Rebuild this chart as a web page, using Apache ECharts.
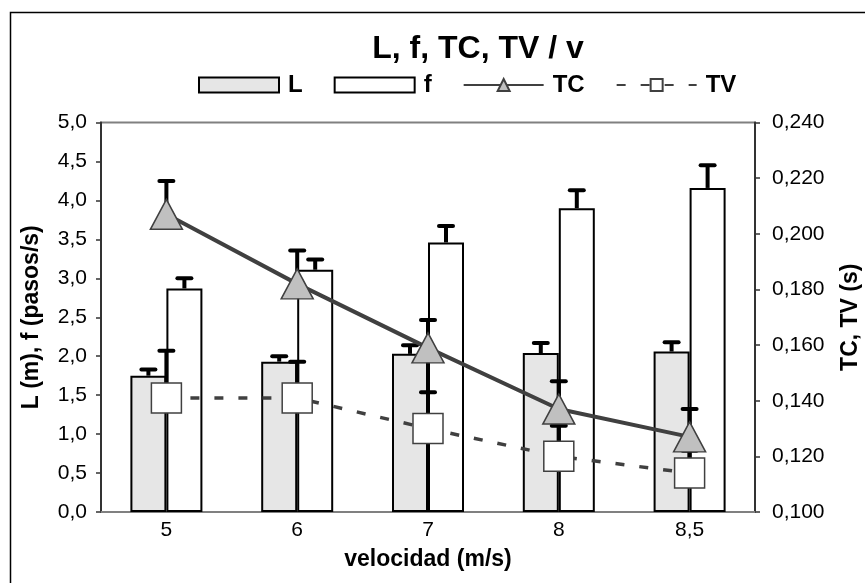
<!DOCTYPE html>
<html>
<head>
<meta charset="utf-8">
<script src="https://cdn.jsdelivr.net/npm/echarts@6/dist/echarts.min.js"></script>
<style>
  html, body { margin: 0; padding: 0; background: #fff; }
  #chart { width: 865px; height: 583px; }
</style>
</head>
<body>
<div id="chart"></div>
<script>
var categories = ['5', '6', '7', '8', '8,5'];
var L_vals  = [1.75, 1.93, 2.03, 2.04, 2.06];
var L_err   = [0.08, 0.07, 0.11, 0.13, 0.12];
var f_vals  = [2.87, 3.11, 3.46, 3.90, 4.16];
var f_err   = [0.13, 0.13, 0.21, 0.23, 0.29];
var TC_vals = [0.207, 0.182, 0.159, 0.137, 0.127];
var TC_err  = [0.012, 0.012, 0.010, 0.010, 0.010];
var TV_vals = [0.141, 0.141, 0.130, 0.120, 0.114];
var TV_err  = [0.017, 0.013, 0.013, 0.011, 0.008];

var leftMin = 0, leftMax = 5, leftStep = 0.5;
var rightMin = 0.1, rightMax = 0.24, rightStep = 0.02;

var FONT = "'Liberation Sans', Arial, sans-serif";
var BAR_W = 36;

var myChart = echarts.init(document.getElementById('chart'));

// barras de error (solo hacia arriba, como en Excel)
function errSeries(name, vals, errs, axisIdx, dx, z) {
    var data = [];
    for (var i = 0; i < vals.length; i++) {
        data.push([i, vals[i], errs[i]]);
    }
    return {
        name: name,
        type: 'custom',
        yAxisIndex: axisIdx,
        silent: true,
        z: z,
        encode: { x: 0, y: 1 },
        renderItem: function (params, api) {
            var i = api.value(0), v = api.value(1), e = api.value(2);
            var base = api.coord([i, v]);
            var top = api.coord([i, v + e]);
            var x = base[0] + dx;
            return {
                type: 'group',
                children: [{
                    type: 'line',
                    shape: { x1: x, y1: base[1], x2: x, y2: top[1] },
                    style: { stroke: '#000', lineWidth: 4 }
                }, {
                    type: 'line',
                    shape: { x1: x - 7, y1: top[1], x2: x + 7, y2: top[1] },
                    style: { stroke: '#000', lineWidth: 4, lineCap: 'round' }
                }]
            };
        },
        data: data
    };
}

var option = {
    animation: false,
    backgroundColor: '#fff',
    title: {
        text: 'L, f, TC, TV / v',
        left: 473,
        top: 28,
        textAlign: 'center',
        textStyle: { fontFamily: FONT, fontSize: 32, fontWeight: 'bold', color: '#000' }
    },
    legend: {
        data: [
            { name: 'L', icon: 'rect' },
            { name: 'f', icon: 'rect' },
            { name: 'TC' },
            { name: 'TV' }
        ],
        left: 198,
        top: 73,
        padding: 0,
        itemWidth: 80,
        itemHeight: 15,
        itemGap: 31,
        textStyle: { fontFamily: FONT, fontSize: 24, fontWeight: 'bold', color: '#000', padding: [0, 0, 0, 4] }
    },
    grid: {
        left: 101,
        right: 110,
        top: 122.5,
        bottom: 71,
        show: true,
        borderColor: '#808080',
        borderWidth: 2,
        backgroundColor: 'transparent',
        outerBoundsMode: 'none'
    },
    graphic: [{
        type: 'rect',
        z: -10,
        shape: { x: 10.5, y: 12.5, width: 900, height: 620 },
        style: { fill: 'none', stroke: '#000', lineWidth: 1.5 }
    }],
    xAxis: {
        type: 'category',
        data: categories,
        name: 'velocidad (m/s)',
        nameLocation: 'middle',
        nameGap: 36,
        nameTextStyle: { fontFamily: FONT, fontSize: 23, fontWeight: 'bold', color: '#000' },
        axisLine: { lineStyle: { color: '#808080', width: 2 } },
        axisTick: { show: false },
        axisLabel: { fontFamily: FONT, fontSize: 21, color: '#000', margin: 8 },
        splitLine: { show: false }
    },
    yAxis: [{
        type: 'value',
        position: 'left',
        min: leftMin,
        max: leftMax,
        interval: leftStep,
        name: 'L (m), f (pasos/s)',
        nameLocation: 'middle',
        nameGap: 58,
        nameTextStyle: { fontFamily: FONT, fontSize: 23, fontWeight: 'bold', color: '#000' },
        axisLine: { show: true, lineStyle: { color: '#333', width: 2 } },
        axisTick: { show: true, length: 5, lineStyle: { color: '#333', width: 1.5 } },
        axisLabel: {
            fontFamily: FONT, fontSize: 21, color: '#000', margin: 14,
            formatter: function (v) { return v.toFixed(1).replace('.', ','); }
        },
        splitLine: { show: false }
    }, {
        type: 'value',
        position: 'right',
        min: rightMin,
        max: rightMax,
        interval: rightStep,
        name: 'TC, TV (s)',
        nameLocation: 'middle',
        nameGap: 84,
        nameRotate: 90,
        nameTextStyle: { fontFamily: FONT, fontSize: 23, fontWeight: 'bold', color: '#000' },
        axisLine: { show: true, lineStyle: { color: '#333', width: 2 } },
        axisTick: { show: true, length: 5, lineStyle: { color: '#333', width: 1.5 } },
        axisLabel: {
            fontFamily: FONT, fontSize: 21, color: '#000', margin: 17,
            formatter: function (v) { return v.toFixed(3).replace('.', ','); }
        },
        splitLine: { show: false }
    }],
    series: [{
        name: 'L',
        type: 'bar',
        barWidth: BAR_W,
        barGap: '0%',
        z: 2,
        itemStyle: { color: '#e6e6e6', borderColor: '#000', borderWidth: 2 },
        data: L_vals
    }, {
        name: 'f',
        type: 'bar',
        barWidth: BAR_W,
        barGap: '0%',
        z: 2,
        itemStyle: { color: '#fff', borderColor: '#000', borderWidth: 2 },
        data: f_vals
    },
    errSeries('errL', L_vals, L_err, 0, -BAR_W / 2, 3),
    errSeries('errF', f_vals, f_err, 0, BAR_W / 2, 3),
    errSeries('errTV', TV_vals, TV_err, 1, 0, 4),
    {
        name: 'TV',
        type: 'line',
        yAxisIndex: 1,
        z: 5,
        symbol: 'rect',
        symbolSize: 30,
        itemStyle: { color: '#fff', borderColor: '#404040', borderWidth: 1.5 },
        lineStyle: { color: '#404040', width: 3.5, type: [9, 15] },
        data: TV_vals
    },
    errSeries('errTC', TC_vals, TC_err, 1, 0, 6),
    {
        name: 'TC',
        type: 'line',
        yAxisIndex: 1,
        z: 7,
        symbol: 'triangle',
        symbolSize: [32, 30],
        itemStyle: { color: '#c0c0c0', borderColor: '#404040', borderWidth: 1.5 },
        lineStyle: { color: '#404040', width: 4 },
        data: TC_vals
    }]
};

myChart.setOption(option);

window.onresize = function () {
    myChart.resize();
};
</script>
</body>
</html>
